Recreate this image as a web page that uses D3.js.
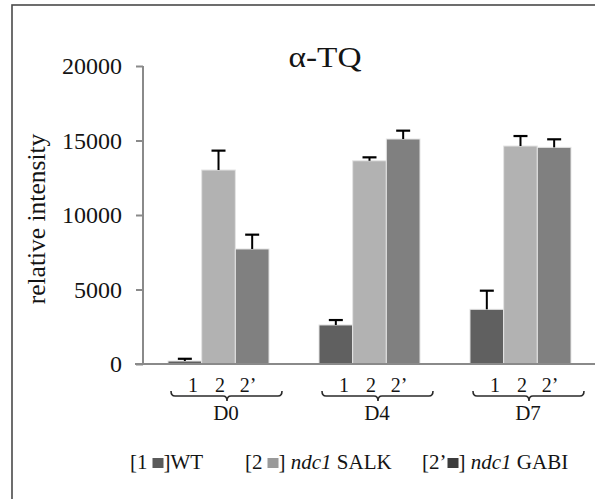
<!DOCTYPE html>
<html>
<head>
<meta charset="utf-8">
<script src="https://cdn.jsdelivr.net/npm/d3@7"></script>
<style>
  body { margin: 0; background: #fff; }
  text { font-family: "Liberation Serif", "Times New Roman", serif; }
</style>
</head>
<body>
<div id="chart"></div>
<script>
// data
const days = ["D0", "D4", "D7"];
const lines = ["1", "2", "2’"];
const wtValues = [200, 2620, 3670];
const salkValues = [13020, 13640, 14630];
const gabiValues = [7720, 15100, 14540];
const wtErrors = [150, 330, 1250];
const salkErrors = [1300, 230, 670];
const gabiErrors = [960, 560, 540];
const yTicks = [0, 5000, 10000, 15000, 20000];
const legendLabels = ["WT", "SALK", "GABI"];

const colors = ["#606060", "#b2b2b2", "#808080"];
const legendColors = ["#5a5a5a", "#9a9a9a", "#3c3c3c"];

const W = 595, H = 499;
const svg = d3.select("#chart").append("svg")
    .attr("width", W)
    .attr("height", H);

// outer frame (right and bottom edges fall outside the picture)
svg.append("rect")
    .attr("x", 12).attr("y", 5)
    .attr("width", W + 20).attr("height", H + 20)
    .attr("fill", "none")
    .attr("stroke", "#4a4a4a")
    .attr("stroke-width", 1.6);

const y = d3.scaleLinear().domain([0, 20000]).range([364, 66]);

const x = d3.scaleBand()
    .domain(days)
    .range([143, 596])
    .paddingInner(0.331)
    .paddingOuter(0.1656);

const xInner = d3.scaleBand()
    .domain(lines)
    .range([0, x.bandwidth()]);

const rows = [];
days.forEach((d, i) => {
    [wtValues, salkValues, gabiValues].forEach((vals, k) => {
        const errs = [wtErrors, salkErrors, gabiErrors][k];
        rows.push({ day: d, line: lines[k], k: k, value: vals[i], err: errs[i] });
    });
});

// y axis
const yAxis = svg.append("g")
    .attr("transform", `translate(${x.range()[0]},0)`)
    .call(d3.axisLeft(y).tickValues(yTicks).tickSize(7).tickSizeOuter(0).tickPadding(14).tickFormat(d3.format("d")));
yAxis.selectAll("path, line").attr("stroke", "#8a8a8a").attr("stroke-width", 2);
yAxis.select(".domain").attr("d", `M0,${y(0)}V${y(20000)}`);
yAxis.selectAll("text")
    .style("font-size", "24px")
    .attr("fill", "#141414");

// bars
svg.selectAll(".bar")
    .data(rows)
    .enter()
    .append("rect")
    .attr("class", "bar")
    .attr("x", d => x(d.day) + xInner(d.line))
    .attr("y", d => y(d.value))
    .attr("width", xInner.bandwidth())
    .attr("height", d => y(0) - y(d.value))
    .attr("fill", d => colors[d.k])
    .attr("stroke", "#e4e4e4")
    .attr("stroke-width", 1);

// error bars (upper only)
const eb = svg.selectAll(".err")
    .data(rows)
    .enter()
    .append("g")
    .attr("class", "err")
    .attr("transform", d => `translate(${x(d.day) + xInner(d.line) + xInner.bandwidth() / 2},0)`);
eb.append("line")
    .attr("y1", d => y(d.value))
    .attr("y2", d => y(d.value + d.err))
    .attr("stroke", "#000")
    .attr("stroke-width", 2);
eb.append("line")
    .attr("x1", -7).attr("x2", 7)
    .attr("y1", d => y(d.value + d.err))
    .attr("y2", d => y(d.value + d.err))
    .attr("stroke", "#000")
    .attr("stroke-width", 2.2);

// x axis line
svg.append("line")
    .attr("x1", x.range()[0] - 8)
    .attr("x2", W)
    .attr("y1", y(0)).attr("y2", y(0))
    .attr("stroke", "#8a8a8a")
    .attr("stroke-width", 2);

// group labels with braces
const labelOffsets = [25, 52, 80];
const grp = svg.selectAll(".grp")
    .data(days)
    .enter()
    .append("g")
    .attr("class", "grp")
    .attr("transform", d => `translate(${x(d)},0)`);

lines.forEach((l, i) => {
    grp.append("text")
        .attr("x", labelOffsets[i])
        .attr("y", 392)
        .attr("text-anchor", "middle")
        .style("font-size", "20px")
        .attr("fill", "#141414")
        .text(l);
});

const b0 = 3, b1 = 114, bc = 59, by = 396;
grp.append("path")
    .attr("d", `M${b0},${by - 5}Q${b0},${by} ${b0 + 4},${by}L${bc - 4},${by}Q${bc},${by} ${bc},${by + 5}Q${bc},${by} ${bc + 4},${by}L${b1 - 4},${by}Q${b1},${by} ${b1},${by - 5}`)
    .attr("fill", "none")
    .attr("stroke", "#2a2a2a")
    .attr("stroke-width", 1.6);

grp.append("text")
    .attr("x", 58)
    .attr("y", 420)
    .attr("text-anchor", "middle")
    .style("font-size", "21px")
    .attr("fill", "#141414")
    .text(d => d);

// y axis title
svg.append("text")
    .attr("text-anchor", "middle")
    .attr("transform", `translate(45, ${(y(0) + y(20000)) / 2 + 4}) rotate(-90)`)
    .style("font-size", "25.5px")
    .attr("fill", "#141414")
    .text("relative intensity");

// chart title
svg.append("text")
    .attr("x", 325)
    .attr("y", 67)
    .attr("text-anchor", "middle")
    .attr("textLength", 73)
    .attr("lengthAdjust", "spacingAndGlyphs")
    .style("font-size", "29px")
    .attr("fill", "#141414")
    .text("α-TQ");

// legend
const legendX = [130, 245, 422];
const legendGap = [5, 5, 1];
const legendY = 469;
lines.forEach((l, i) => {
    const g = svg.append("g").attr("transform", `translate(${legendX[i]},${legendY})`);
    let cx = 0;
    const piece = (str, italic) => {
        const t = g.append("text")
            .attr("x", cx)
            .style("font-size", "21px")
            .style("font-style", italic ? "italic" : "normal")
            .attr("fill", "#141414")
            .attr("xml:space", "preserve")
            .text(str);
        cx += t.node().getComputedTextLength();
    };
    piece("[" + l, false);
    cx += legendGap[i];
    g.append("rect")
        .attr("x", cx).attr("y", -11)
        .attr("width", 11).attr("height", 10)
        .attr("fill", legendColors[i]);
    cx += 11;
    if (i === 0) {
        piece("]" + legendLabels[i], false);
    } else {
        piece("] ", false);
        piece("ndc1", true);
        piece(" " + legendLabels[i], false);
    }
});
</script>
</body>
</html>
